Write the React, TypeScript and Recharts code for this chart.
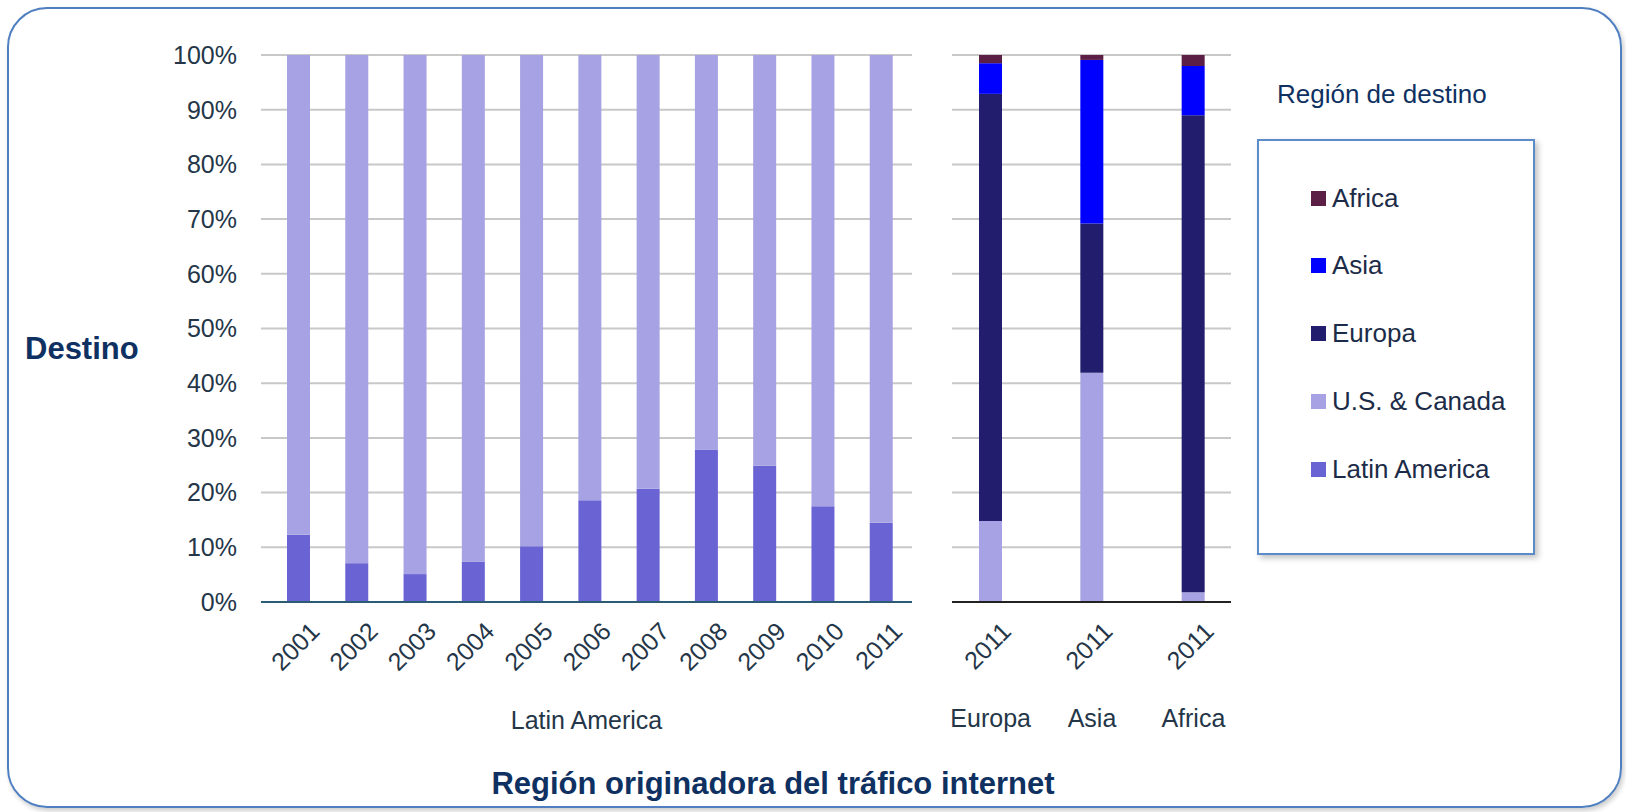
import React from 'react';
import { BarChart, Bar, XAxis, YAxis, CartesianGrid } from 'recharts';

// Latin America as origin, share of traffic per destination (%)
const years = ['2001', '2002', '2003', '2004', '2005', '2006', '2007', '2008', '2009', '2010', '2011'];
const latinAmericaShare = [12.3, 7.1, 5.1, 7.4, 10.2, 18.6, 20.7, 27.9, 24.9, 17.5, 14.5];
const usCanadaShare = [87.7, 92.9, 94.9, 92.6, 89.8, 81.4, 79.3, 72.1, 75.1, 82.5, 85.5];

// Other origins in 2011
const originRegions = ['Europa', 'Asia', 'Africa'];
const originYears = ['2011', '2011', '2011'];
const originUsCanada = [14.8, 41.9, 1.8];
const originEuropa = [78.1, 27.3, 87.2];
const originAsia = [5.6, 29.9, 9.0];
const originAfrica = [1.5, 0.9, 2.0];

const yTicks = [0, 10, 20, 30, 40, 50, 60, 70, 80, 90, 100];

const legendNames = ['Africa', 'Asia', 'Europa', 'U.S. & Canada', 'Latin America'];

const COLORS: Record<string, string> = {
    'Latin America': '#6a63d3',
    'U.S. & Canada': '#a6a2e3',
    'Europa': '#221d6d',
    'Asia': '#0000fe',
    'Africa': '#5b1f45',
};

const FONT = '"Liberation Sans", Arial, sans-serif';
const TICK_COLOR = '#243648';
const TITLE_COLOR = '#0f3162';
const GRID_COLOR = '#c8c8c8';

const leftData = years.map((year, i) => ({
    year,
    latinAmerica: latinAmericaShare[i],
    usCanada: usCanadaShare[i],
}));

const rightData = originRegions.map((region, i) => ({
    region,
    year: originYears[i],
    usCanada: originUsCanada[i],
    europa: originEuropa[i],
    asia: originAsia[i],
    africa: originAfrica[i],
}));

const YearTick = (props: any) => {
    const { x, y, payload } = props;
    return (
        <g transform={`translate(${x + 23},${y + 31})`}>
            <text textAnchor="end" transform="rotate(-45)" fill={TICK_COLOR} fontSize={25} fontFamily={FONT}>
                {payload.value}
            </text>
        </g>
    );
};

const RegionTick = (props: any) => {
    const { x, y, payload, index } = props;
    const row = rightData[index ?? payload.index] || rightData[0];
    return (
        <g>
            <g transform={`translate(${x + 22},${y + 31})`}>
                <text textAnchor="end" transform="rotate(-45)" fill={TICK_COLOR} fontSize={25} fontFamily={FONT}>
                    {row.year}
                </text>
            </g>
            <text x={x} y={y + 125} textAnchor="middle" fill={TICK_COLOR} fontSize={25} fontFamily={FONT}>
                {payload.value}
            </text>
        </g>
    );
};

const App: React.FC = () => {
    return (
        <div style={{ position: 'relative', width: 1626, height: 812, background: '#fff', fontFamily: FONT }}>
            <style>{'body{margin:0}'}</style>
            <div
                style={{
                    position: 'absolute',
                    left: 7,
                    top: 7,
                    width: 1615,
                    height: 801,
                    boxSizing: 'border-box',
                    border: '2px solid #4f7fc0',
                    borderRadius: 40,
                    boxShadow: '2px 3px 5px rgba(0,0,0,0.2)',
                }}
            />

            <div style={{ position: 'absolute', left: 0, top: 0 }}>
                <BarChart width={930} height={742} data={leftData} margin={{ top: 55, right: 18, bottom: 10, left: 0 }}>
                    <CartesianGrid vertical={false} stroke={GRID_COLOR} strokeWidth={2} />
                    <YAxis
                        width={261}
                        domain={[0, 100]}
                        ticks={yTicks}
                        tickFormatter={(v: number) => `${v}%`}
                        axisLine={false}
                        tickLine={false}
                        tickSize={0}
                        tickMargin={24}
                        tick={{ fill: TICK_COLOR, fontSize: 25, fontFamily: FONT }}
                    />
                    <XAxis
                        dataKey="year"
                        height={130}
                        padding={{ left: 8, right: 2 }}
                        axisLine={{ stroke: '#2b5c74', strokeWidth: 2 }}
                        tickLine={false}
                        tickSize={0}
                        tickMargin={0}
                        interval={0}
                        tick={<YearTick />}
                        label={{
                            value: 'Latin America',
                            position: 'insideBottom',
                            offset: 3,
                            fill: TICK_COLOR,
                            fontSize: 25,
                            fontFamily: FONT,
                        }}
                    />
                    <Bar dataKey="latinAmerica" stackId="a" fill={COLORS['Latin America']} barSize={23} isAnimationActive={false} />
                    <Bar dataKey="usCanada" stackId="a" fill={COLORS['U.S. & Canada']} barSize={23} isAnimationActive={false} />
                </BarChart>
            </div>

            <div style={{ position: 'absolute', left: 940, top: 0 }}>
                <BarChart width={310} height={742} data={rightData} margin={{ top: 55, right: 19, bottom: 10, left: 12 }}>
                    <CartesianGrid vertical={false} stroke={GRID_COLOR} strokeWidth={2} />
                    <YAxis hide domain={[0, 100]} ticks={yTicks} />
                    <XAxis
                        dataKey="region"
                        height={130}
                        padding={{ left: -12, right: -13 }}
                        axisLine={{ stroke: '#222', strokeWidth: 2 }}
                        tickLine={false}
                        tickSize={0}
                        tickMargin={0}
                        interval={0}
                        tick={<RegionTick />}
                    />
                    <Bar dataKey="usCanada" stackId="b" fill={COLORS['U.S. & Canada']} barSize={23} isAnimationActive={false} />
                    <Bar dataKey="europa" stackId="b" fill={COLORS['Europa']} barSize={23} isAnimationActive={false} />
                    <Bar dataKey="asia" stackId="b" fill={COLORS['Asia']} barSize={23} isAnimationActive={false} />
                    <Bar dataKey="africa" stackId="b" fill={COLORS['Africa']} barSize={23} isAnimationActive={false} />
                </BarChart>
            </div>

            <div style={{ position: 'absolute', left: 25, top: 333, fontSize: 31, lineHeight: '31px', fontWeight: 700, color: TITLE_COLOR }}>
                Destino
            </div>

            <div
                style={{
                    position: 'absolute',
                    left: 273,
                    width: 1000,
                    top: 768,
                    textAlign: 'center',
                    fontSize: 31,
                    lineHeight: '31px',
                    fontWeight: 700,
                    color: TITLE_COLOR,
                }}
            >
                Región originadora del tráfico internet
            </div>

            <div style={{ position: 'absolute', left: 1277, top: 81, fontSize: 26, lineHeight: '26px', color: TITLE_COLOR }}>
                Región de destino
            </div>

            <div
                style={{
                    position: 'absolute',
                    left: 1257,
                    top: 139,
                    width: 278,
                    height: 416,
                    boxSizing: 'border-box',
                    border: '2px solid #5b8bc9',
                    boxShadow: '3px 3px 6px rgba(0,0,0,0.25)',
                    background: '#fff',
                }}
            >
                {legendNames.map((name, i) => (
                    <div
                        key={name}
                        style={{
                            position: 'absolute',
                            left: 52,
                            top: 42 + i * 67.75,
                            height: 30,
                            display: 'flex',
                            alignItems: 'center',
                            whiteSpace: 'nowrap',
                            fontSize: 26,
                            color: '#1c2c48',
                        }}
                    >
                        <span style={{ display: 'inline-block', width: 15, height: 15, background: COLORS[name], marginRight: 6 }} />
                        {name}
                    </div>
                ))}
            </div>
        </div>
    );
};

export default App;
